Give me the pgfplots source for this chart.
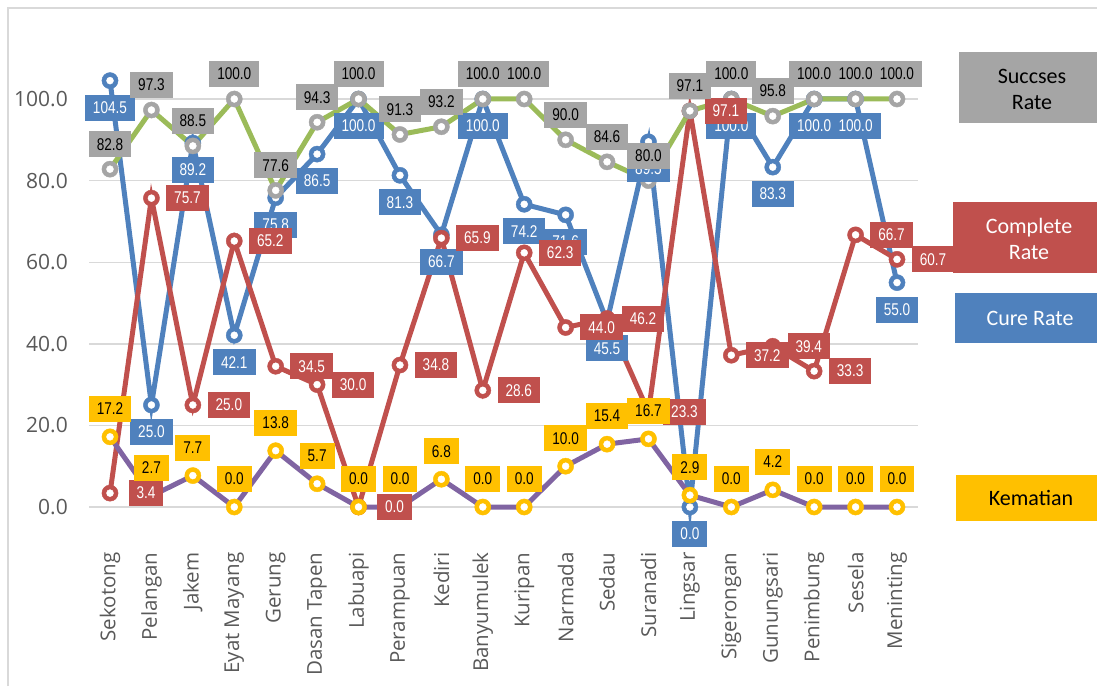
\documentclass[border=0pt]{standalone}
\usepackage{pgfplots}
\pgfplotsset{compat=1.18}
\usepackage{pgfplotstable}
\usepackage{fontspec}
\setmainfont{Open Sans}
\newfontfamily\lblfont[FakeStretch=0.8]{Liberation Sans}
\newfontfamily\legfont{Carlito}
\definecolor{cgray}{HTML}{A5A5A5}
\definecolor{cgreen}{HTML}{9BBB59}
\definecolor{cblue}{HTML}{4F81BD}
\definecolor{cred}{HTML}{C0504D}
\definecolor{cpurple}{HTML}{8064A2}
\definecolor{cgold}{HTML}{FFC000}
\definecolor{ctext}{HTML}{595959}
\definecolor{cgrid}{HTML}{D9D9D9}

% x = category index; s = Succses Rate; c = Cure Rate; r = Complete Rate; k = Kematian
\pgfplotstableread{
x s c r k
0 82.8 104.5 3.4 17.2
1 97.3 25.0 75.7 2.7
2 88.5 89.2 25.0 7.7
3 100.0 42.1 65.2 0.0
4 77.6 75.8 34.5 13.8
5 94.3 86.5 30.0 5.7
6 100.0 100.0 0.0 0.0
7 91.3 81.3 34.8 0.0
8 93.2 66.7 65.9 6.8
9 100.0 100.0 28.6 0.0
10 100.0 74.2 62.3 0.0
11 90.0 71.6 44.0 10.0
12 84.6 45.5 46.2 15.4
13 80.0 89.5 23.3 16.7
14 97.1 0.0 97.1 2.9
15 100.0 100.0 37.2 0.0
16 95.8 83.3 39.4 4.2
17 100.0 100.0 33.3 0.0
18 100.0 100.0 66.7 0.0
19 100.0 55.0 60.7 0.0
}\data

\tikzset{lblbox/.style={font=\lblfont\fontsize{17}{18}\selectfont, inner xsep=8pt, inner ysep=2pt, minimum height=26pt, anchor=center}}
\pgfplotsset{
  serline/.style={#1, line width=5pt, mark=none},
  serdisk/.style={only marks, mark=*, mark size=8.1pt, color=#1},
  serhole/.style={only marks, mark=*, mark size=3.5pt, color=white},
}

\begin{document}
\begin{tikzpicture}[x=1pt,y=1pt]
\useasboundingbox (0,0) rectangle (1097,686);
\draw[cgrid, line width=1.5pt] (8,0) -- (8,678) -- (1097,678);
\begin{axis}[
  at={(89.3pt,179pt)}, anchor=south west, scale only axis,
  width=828.4pt, height=489.6pt,
  xmin=-0.5, xmax=19.5, ymin=0, ymax=120,
  clip=false,
  axis line style={draw=none},
  major tick length=0pt,
  ytick={0,20,40,60,80,100},
  ymajorgrids, major grid style={cgrid, line width=1.4pt},
  xtick={0,...,19},
  xticklabels={Sekotong,Pelangan,Jakem,Eyat Mayang,Gerung,Dasan Tapen,Labuapi,Perampuan,Kediri,Banyumulek,Kuripan,Narmada,Sedau,Suranadi,Lingsar,Sigerongan,Gunungsari,Penimbung,Sesela,Meninting},
  xticklabel style={rotate=90, anchor=east, font=\fontsize{20.5}{21}\selectfont, text=ctext},
  xticklabel shift=42pt,
  yticklabel={\pgfmathprintnumber[fixed,fixed zerofill,precision=1,assume math mode=true]{\tick}},
  yticklabel style={font=\fontsize{21}{22}\selectfont, text=ctext},
  yticklabel shift=18pt,
]
% Cure Rate
\addplot[serline=cblue] table[x=x,y=c]{\data};
\addplot[serdisk=cblue] table[x=x,y=c]{\data};
\addplot[serhole] table[x=x,y=c]{\data};
% Complete Rate
\addplot[serline=cred] table[x=x,y=r]{\data};
\addplot[serdisk=cred] table[x=x,y=r]{\data};
\addplot[serhole] table[x=x,y=r]{\data};
% Succses Rate (green line, grey markers)
\addplot[serline=cgreen] table[x=x,y=s]{\data};
\addplot[serdisk=cgray] table[x=x,y=s]{\data};
\addplot[serhole] table[x=x,y=s]{\data};
% Kematian (purple line, gold markers)
\addplot[serline=cpurple] table[x=x,y=k]{\data};
\addplot[serdisk=cgold] table[x=x,y=k]{\data};
\addplot[serhole] table[x=x,y=k]{\data};

\addplot[draw=none, mark=none, nodes near coords, point meta=explicit symbolic,
  every node near coord/.style={lblbox, fill=cblue, text=white, yshift=-27pt}] table[x=x,y=c,meta=c]{\data};
\addplot[draw=none, mark=none, nodes near coords, point meta=explicit symbolic,
  every node near coord/.style={lblbox, fill=cred, text=white, xshift=36pt}] table[x=x,y=r,meta=r]{\data};
\addplot[draw=none, mark=none, nodes near coords, point meta=explicit symbolic,
  every node near coord/.style={lblbox, fill=cgray, text=black, yshift=25pt}] table[x=x,y=s,meta=s]{\data};
\addplot[draw=none, mark=none, nodes near coords, point meta=explicit symbolic,
  every node near coord/.style={lblbox, fill=cgold, text=black, yshift=28pt}] table[x=x,y=k,meta=k]{\data};
\end{axis}

\fill[cgray] (959,634) rectangle (1097,563);
\node[font=\legfont\fontsize{22}{26}\selectfont, align=center, text=black] at (1032,597) {Succses\\Rate};
\fill[cred] (953,484) rectangle (1097,413);
\node[font=\legfont\fontsize{22}{26}\selectfont, align=center, text=white] at (1029,447) {Complete\\Rate};
\fill[cblue] (955,393) rectangle (1097,343);
\node[font=\legfont\fontsize{22}{26}\selectfont, text=white] at (1030,368) {Cure Rate};
\fill[cgold] (956,211) rectangle (1097,165);
\node[font=\legfont\fontsize{22}{26}\selectfont, text=black] at (1031,188) {Kematian};
\end{tikzpicture}
\end{document}
